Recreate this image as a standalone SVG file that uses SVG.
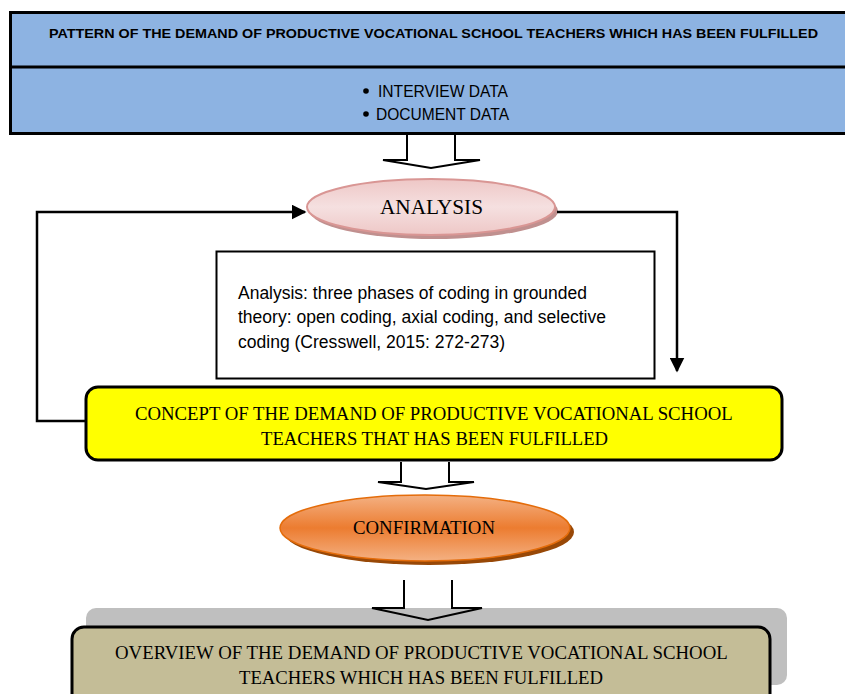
<svg xmlns="http://www.w3.org/2000/svg" width="845" height="694" viewBox="0 0 845 694">
<style>
.sans{font-family:"Liberation Sans",Arial,sans-serif;fill:#000}
.serif{font-family:"Liberation Serif","Times New Roman",serif;fill:#000}
.conn{fill:none;stroke:#000;stroke-width:2.5}
.blk{fill:#fff;stroke:#000;stroke-width:2}
</style>
<defs>
<marker id="ah" viewBox="0 0 10 10" refX="9" refY="5" markerWidth="6" markerHeight="6" markerUnits="strokeWidth" orient="auto"><path d="M0,0 L10,5 L0,10 z" fill="#000"/></marker>
<linearGradient id="gPink" x1="0" y1="0" x2="0" y2="1">
<stop offset="0" stop-color="#EEC7C6"/><stop offset="0.5" stop-color="#F5E0E0"/><stop offset="1" stop-color="#EEC7C6"/>
</linearGradient>
<linearGradient id="gOrange" x1="0" y1="0" x2="0" y2="1">
<stop offset="0" stop-color="#F4B183"/><stop offset="0.5" stop-color="#EC7C30"/><stop offset="1" stop-color="#F4B183"/>
</linearGradient>
</defs>

<g id="pattern">
<rect x="10.5" y="12.5" width="850" height="121" fill="#8DB3E2" stroke="#000" stroke-width="3"/>
<line x1="10.5" y1="67" x2="850" y2="67" stroke="#000" stroke-width="3"/>
<text class="sans" x="49" y="38" font-size="13.5" font-weight="bold" textLength="769" lengthAdjust="spacingAndGlyphs">PATTERN OF THE DEMAND OF  PRODUCTIVE VOCATIONAL SCHOOL TEACHERS WHICH HAS BEEN FULFILLED</text>
<circle cx="366" cy="91" r="2.8" fill="#000"/>
<text class="sans" x="378" y="97" font-size="17" textLength="130" lengthAdjust="spacingAndGlyphs">INTERVIEW DATA</text>
<circle cx="366" cy="114" r="2.8" fill="#000"/>
<text class="sans" x="376" y="120" font-size="17" textLength="133" lengthAdjust="spacingAndGlyphs">DOCUMENT DATA</text>
</g>

<g id="arrow1">
<path class="blk" d="M407,135 L407,160 L383,160 L431,168 L480,160 L455,160 L455,135"/>
</g>

<g id="analysis">
<ellipse cx="434" cy="211" rx="124" ry="28" fill="#C0908F"/>
<ellipse cx="431" cy="207" rx="124" ry="28" fill="url(#gPink)" stroke="#D99694" stroke-width="2"/>
<text class="serif" x="380" y="214" font-size="20" textLength="103" lengthAdjust="spacingAndGlyphs">ANALYSIS</text>
</g>

<g id="note">
<rect x="216.5" y="251.5" width="438" height="127" fill="#fff" stroke="#000" stroke-width="2"/>
<text class="sans" font-size="17.5">
<tspan x="238" y="299" textLength="349" lengthAdjust="spacingAndGlyphs">Analysis: three phases of coding in grounded</tspan>
<tspan x="238" y="323" textLength="368" lengthAdjust="spacingAndGlyphs">theory: open coding, axial coding, and selective</tspan>
<tspan x="238" y="348" textLength="267" lengthAdjust="spacingAndGlyphs">coding (Cresswell, 2015: 272-273)</tspan>
</text>
</g>

<g id="connectors">
<path class="conn" d="M86,421 L37,421 L37,212 L305,212" marker-end="url(#ah)"/>
<path class="conn" d="M557,212 L677,212 L677,371" marker-end="url(#ah)"/>
</g>

<g id="concept">
<rect x="86" y="387" width="696" height="73" rx="12" ry="12" fill="#FFFF00" stroke="#000" stroke-width="3"/>
<text class="serif" font-size="18.5">
<tspan x="135" y="420" textLength="597" lengthAdjust="spacingAndGlyphs">CONCEPT OF THE DEMAND OF PRODUCTIVE VOCATIONAL SCHOOL</tspan>
<tspan x="261" y="445" textLength="347" lengthAdjust="spacingAndGlyphs">TEACHERS THAT HAS BEEN FULFILLED</tspan>
</text>
</g>

<g id="arrow2">
<path class="blk" d="M401,462 L401,482 L378,482 L426,489 L474,482 L449,482 L449,462"/>
</g>

<g id="confirmation">
<ellipse cx="429" cy="532" rx="145" ry="33" fill="#984807"/>
<ellipse cx="425" cy="528" rx="145" ry="33" fill="url(#gOrange)" stroke="#E46C0A" stroke-width="1.5"/>
<text class="serif" x="353" y="534" font-size="18.5" textLength="142" lengthAdjust="spacingAndGlyphs">CONFIRMATION</text>
</g>

<g id="overview">
<rect x="86" y="608" width="701" height="77" rx="10" ry="10" fill="#BFBFBF"/>
<path d="M404,580 L404,608 L372,608 L428,620 L482,608 L452,608 L452,580" fill="none" stroke="#000" stroke-width="2"/>
<rect x="72" y="627" width="698" height="80" rx="12" ry="12" fill="#C4BD97" stroke="#000" stroke-width="3"/>
<text class="serif" font-size="18.5">
<tspan x="115" y="659" textLength="612" lengthAdjust="spacingAndGlyphs">OVERVIEW OF THE DEMAND OF PRODUCTIVE VOCATIONAL SCHOOL</tspan>
<tspan x="239" y="684" textLength="364" lengthAdjust="spacingAndGlyphs">TEACHERS WHICH HAS BEEN FULFILLED</tspan>
</text>
</g>
</svg>
